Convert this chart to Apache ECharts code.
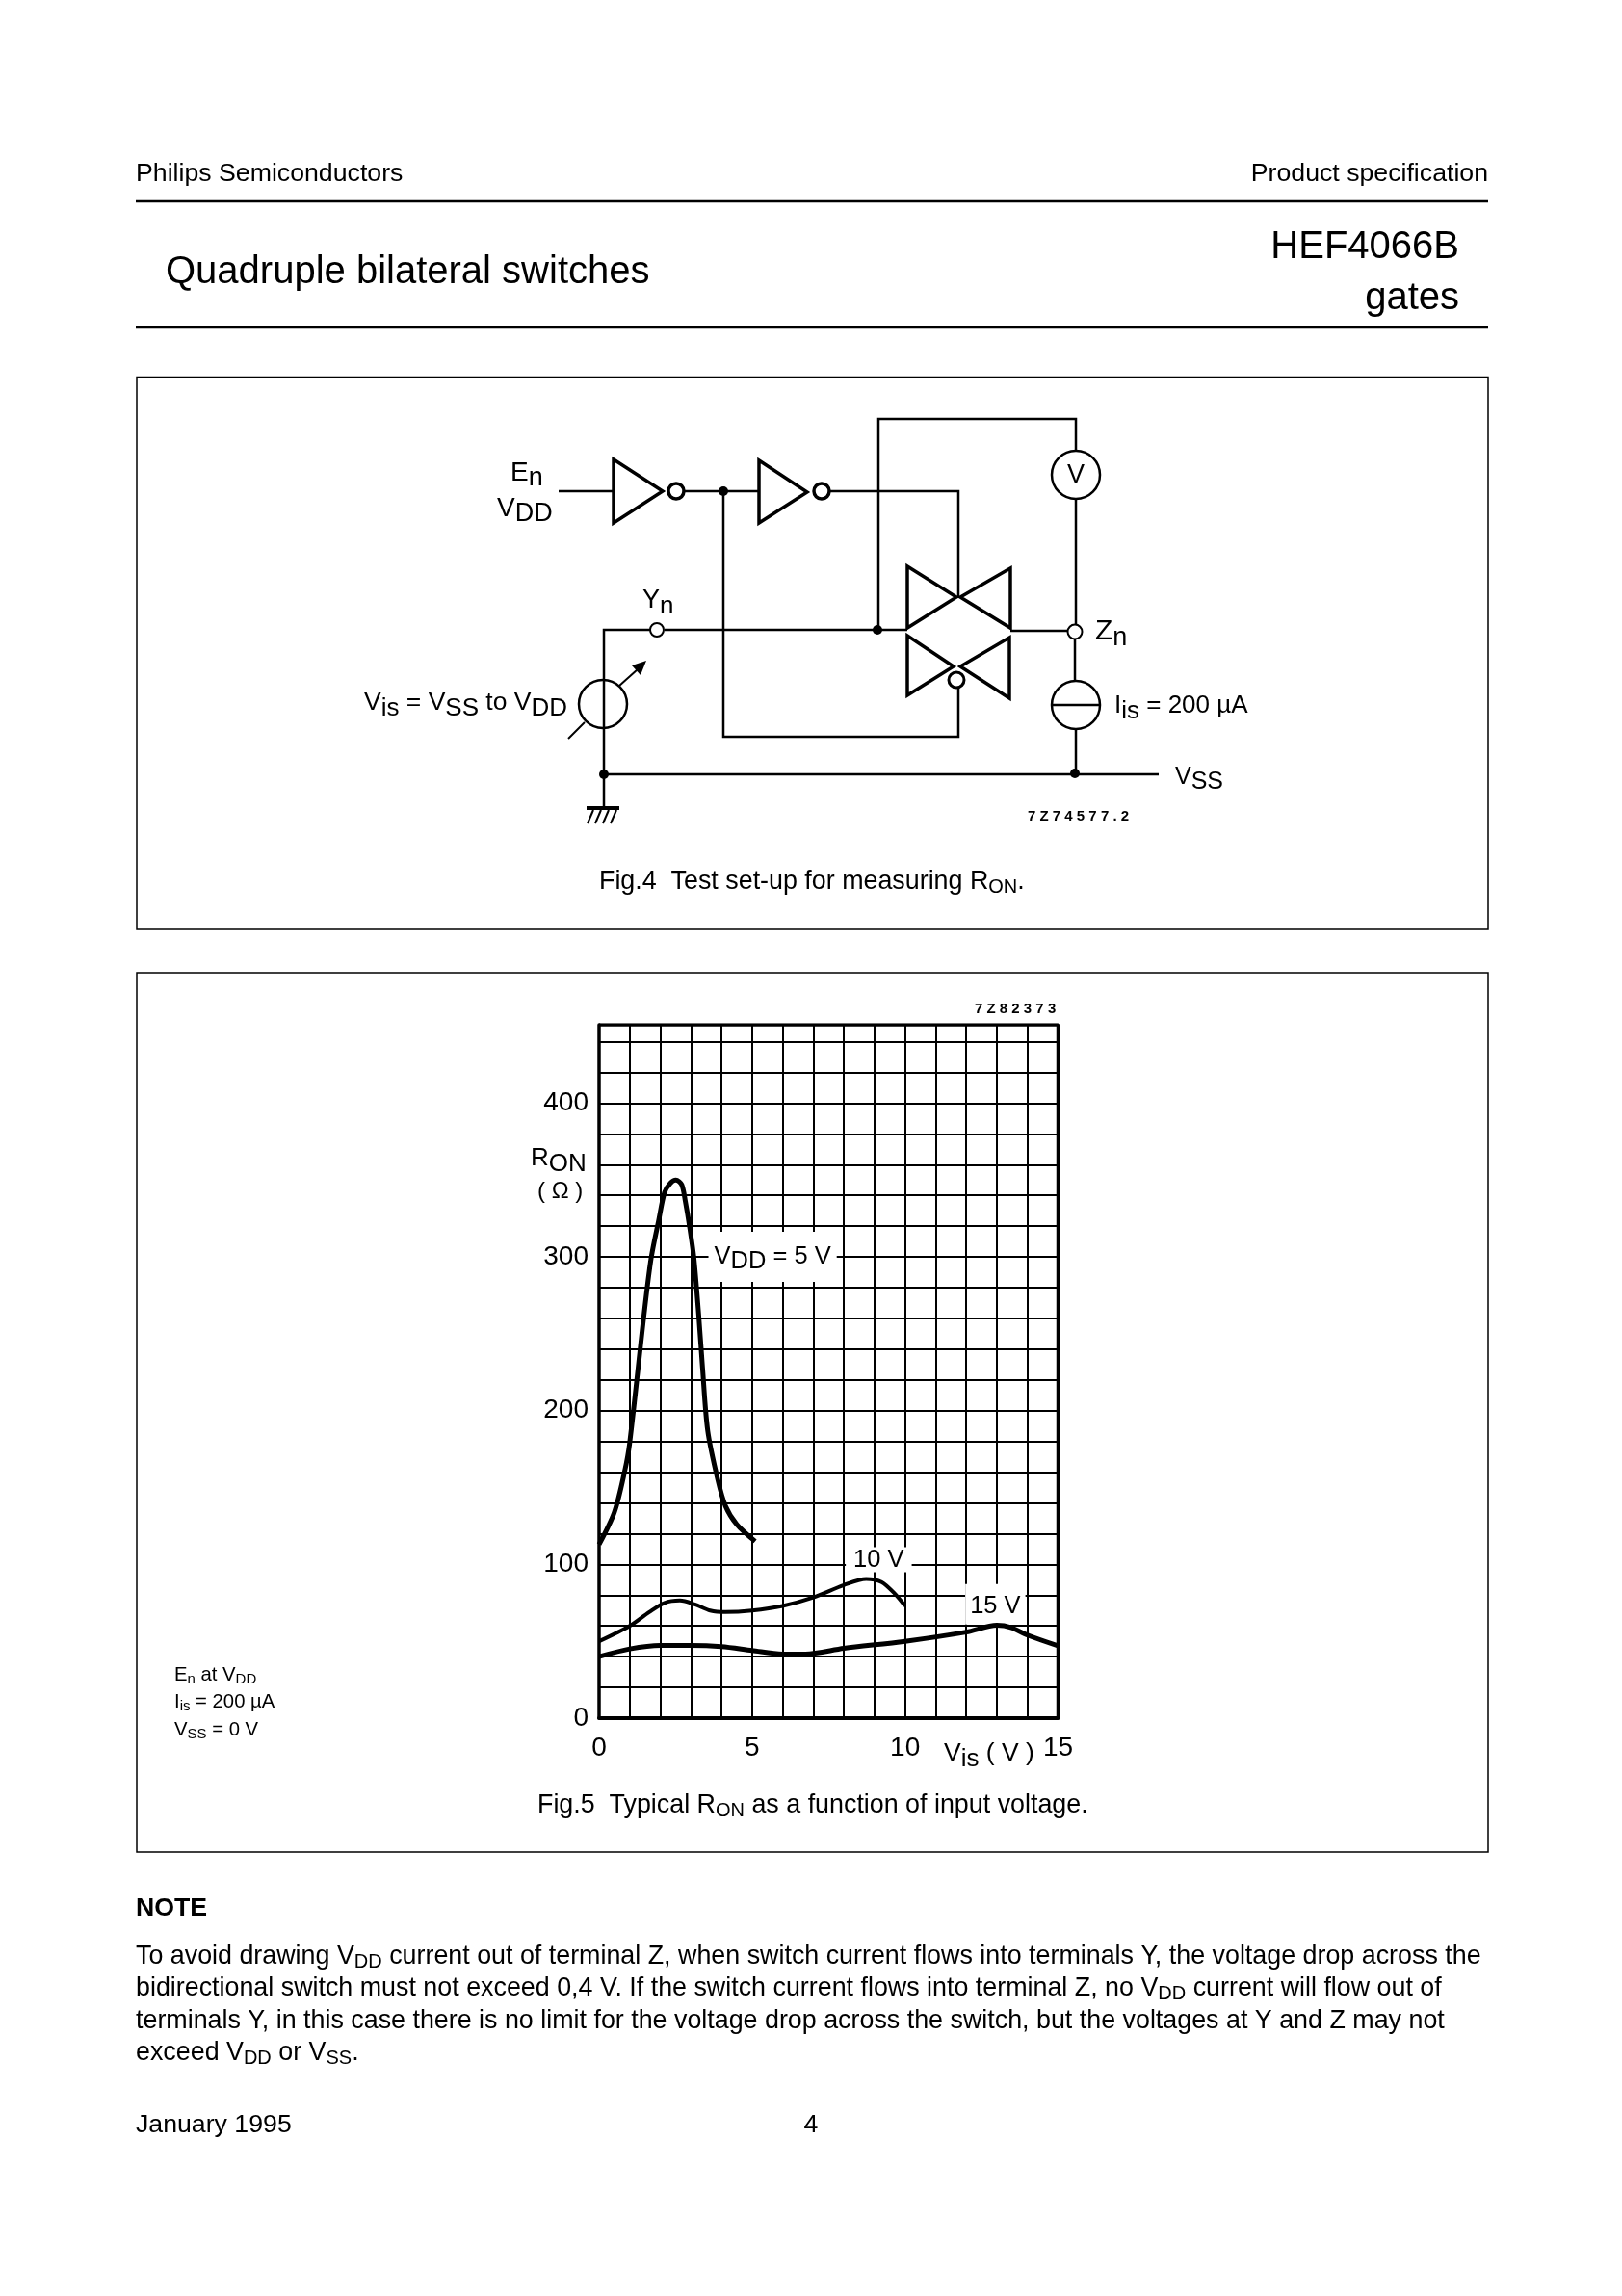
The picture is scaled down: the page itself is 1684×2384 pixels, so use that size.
<!DOCTYPE html>
<html>
<head>
<meta charset="utf-8">
<title>HEF4066B</title>
<script src="https://cdn.jsdelivr.net/npm/echarts@6/dist/echarts.min.js"></script>
<style>
    html, body { margin: 0; padding: 0; background: #fff; }
    #page { width: 1684px; height: 2384px; }
</style>
</head>
<body>
<div id="page"></div>
<script>
var vdd5 = [[0, 113], [0.5, 134], [0.83, 160], [1, 179], [1.46, 261], [1.7, 299], [1.95, 324], [2.14, 342],
    [2.33, 348], [2.51, 350], [2.7, 347], [2.82, 336], [2.97, 318], [3.1, 299], [3.26, 261], [3.38, 228], [3.55, 187],
    [3.88, 155], [4.13, 138], [4.5, 126], [5.1, 115]];
var vdd10 = [[0, 50], [1, 60], [1.64, 69], [2.14, 75], [2.64, 76.5], [3.13, 74], [3.63, 70], [4.13, 69], [5, 70],
    [6, 73], [7, 78.5], [8, 86.5], [8.73, 90.5], [9.23, 88.5], [9.66, 81], [10, 73]];
var vdd15 = [[0, 40], [1, 45], [2, 47.3], [3, 47.3], [4, 46.5], [5, 44], [6, 41.7], [6.74, 41.7], [8, 45.4], [10, 50],
    [12, 56], [13, 60.4], [13.46, 59], [14, 54], [15, 47]];

var xTickLabels = [0, 5, 10, 15];
var yTickLabels = [0, 100, 200, 300, 400];
var curveLabels = [
    {value: [5.67, 300], text: '{m|V}{s|DD}{m| = 5 V}'},
    {value: [9.14, 103], text: '{m|10 V}'},
    {value: [12.95, 74], text: '{m|15 V}'}
];
var curveLabelPads = [[8, 6, 8, 6], [0, 8, 0, 8], [10, 5, 6, 5]];

var FONT = '"Liberation Sans", Arial, sans-serif';
var TEXT = '#000';

var els = [];

function txt(x, y, str, size, opt) {
    opt = opt || {};
    els.push({
        type: 'text', x: x, y: y, z: 50,
        style: {
            text: str, fill: TEXT, font: (opt.weight || 'normal') + ' ' + size + 'px ' + FONT,
            align: opt.align || 'left', verticalAlign: 'middle',
            rich: opt.rich
        }
    });
}

// text with subscripts: {m|main}{s|sub}
function rich(size, subSize) {
    return {
        m: {fontSize: size, fontFamily: FONT, fill: TEXT, color: TEXT},
        s: {fontSize: subSize, fontFamily: FONT, fill: TEXT, color: TEXT, padding: [Math.round(size * 0.42), 0, 0, 0]}
    };
}

function line(pts, w, z) {
    els.push({type: 'polyline', z: z || 40, shape: {points: pts}, style: {stroke: '#000', lineWidth: w || 2.5, fill: null, lineJoin: 'miter'}});
}

function tri(pts, w) {
    els.push({type: 'polygon', z: 41, shape: {points: pts}, style: {stroke: '#000', lineWidth: w || 3.5, fill: null, lineJoin: 'miter'}});
}

function circ(x, y, r, w) {
    els.push({type: 'circle', z: 42, shape: {cx: x, cy: y, r: r}, style: {stroke: '#000', lineWidth: w || 2.5, fill: '#fff'}});
}

function dot(x, y, r) {
    els.push({type: 'circle', z: 43, shape: {cx: x, cy: y, r: r || 5}, style: {fill: '#000'}});
}

function box(x, y, w, h) {
    els.push({type: 'rect', z: 1, shape: {x: x, y: y, width: w, height: h}, style: {stroke: '#000', lineWidth: 1.5, fill: null}});
}

// page furniture
var BODY = 26.85;
var bodyR = rich(BODY, 20);
txt(141, 180.5, 'Philips Semiconductors', 26.7);
txt(1545, 180.5, 'Product specification', 26.7, {align: 'right'});
line([[141, 209], [1545, 209]], 2.5);
txt(172, 282.5, 'Quadruple bilateral switches', 40);
txt(1515, 256.5, 'HEF4066B', 40, {align: 'right'});
txt(1515, 309.5, 'gates', 40, {align: 'right'});
line([[141, 340], [1545, 340]], 2.5);

box(142, 391.5, 1403, 573.5);
box(142, 1010, 1403, 913);

txt(622, 915.5, '{m|Fig.4  Test set-up for measuring R}{s|ON}{m|.}', BODY, {rich: bodyR});
txt(558, 1874.5, '{m|Fig.5  Typical R}{s|ON}{m| as a function of input voltage.}', BODY, {rich: bodyR});

var smallR = rich(20.3, 15);
txt(181, 1739, '{m|E}{s|n}{m| at V}{s|DD}', 20.3, {rich: smallR});
txt(181, 1767, '{m|I}{s|is}{m| = 200 µA}', 20.3, {rich: smallR});
txt(181, 1796, '{m|V}{s|SS}{m| = 0 V}', 20.3, {rich: smallR});

txt(141, 1981.5, 'NOTE', 26.7, {weight: 'bold'});
txt(141, 2031.5, '{m|To avoid drawing V}{s|DD}{m| current out of terminal Z, when switch current flows into terminals Y, the voltage drop across the}', BODY, {rich: bodyR});
txt(141, 2064.5, '{m|bidirectional switch must not exceed 0,4 V. If the switch current flows into terminal Z, no V}{s|DD}{m| current will flow out of}', BODY, {rich: bodyR});
txt(141, 2098.5, 'terminals Y, in this case there is no limit for the voltage drop across the switch, but the voltages at Y and Z may not', BODY);
txt(141, 2131.5, '{m|exceed V}{s|DD}{m| or V}{s|SS}{m|.}', BODY, {rich: bodyR});
txt(141, 2206.5, 'January 1995', 26.7);
txt(842, 2206.5, '4', 26.7, {align: 'center'});

// Fig.4 schematic
var schR = rich(26.5, 26);
line([[580, 510], [637, 510]]);
tri([[637, 477], [688, 510], [637, 543]]);
circ(702, 510, 8, 3.5);
line([[711, 510], [788, 510]]);
dot(751, 510);
tri([[788, 478], [838, 511], [788, 543]]);
circ(853, 510, 8, 3.5);
line([[862, 510], [995, 510], [995, 620]]);
line([[751, 510], [751, 765], [995, 765], [995, 715]]);
line([[912, 654], [912, 435], [1117, 435], [1117, 468]]);
circ(1117, 493, 25);
line([[1117, 518], [1117, 650]]);
line([[627, 838], [627, 654], [675, 654]]);
circ(682, 654, 7, 2);
line([[690, 654], [942, 654]]);
dot(911, 654);
tri([[942, 588], [993, 620], [942, 652]]);
tri([[1049, 590], [997, 620], [1049, 652]]);
tri([[942, 660], [990, 692], [942, 722]]);
tri([[1048, 662], [997, 692], [1048, 725]]);
circ(993, 706, 8, 3);
line([[1049, 655], [1108, 655]]);
circ(1116, 656, 7.5, 2);
line([[1116, 664], [1116, 707]]);
circ(1117, 732, 25);
line([[1092, 732], [1142, 732]], 2.5, 44);
line([[1117, 757], [1117, 803]]);
line([[627, 804], [1203, 804]]);
dot(627, 804);
dot(1116, 803);

els.push({type: 'circle', z: 39, shape: {cx: 626, cy: 731, r: 25}, style: {stroke: '#000', lineWidth: 2.5, fill: null}});
line([[643, 712], [662, 695]], 2);
els.push({type: 'polygon', z: 41, shape: {points: [[671, 686], [656, 691], [665, 701]]}, style: {fill: '#000'}});
line([[607, 750], [590, 767]], 2);

line([[609, 839], [643, 839]], 4);
line([[616, 841], [610, 855]], 2);
line([[624, 841], [618, 855]], 2);
line([[632, 841], [626, 855]], 2);
line([[640, 841], [634, 855]], 2);

txt(1117, 494, 'V', 27, {align: 'center'});
txt(530, 491, '{m|E}{s|n}', 28, {rich: rich(28, 27)});
txt(516, 528, '{m|V}{s|DD}', 28, {rich: rich(28, 27)});
txt(667, 624, '{m|Y}{s|n}', 27, {rich: rich(27, 26)});
txt(378, 730, '{m|V}{s|is}{m| = V}{s|SS}{m| to V}{s|DD}', 26.5, {rich: schR});
txt(1137, 656, '{m|Z}{s|n}', 28, {rich: rich(30, 27)});
txt(1157, 733, '{m|I}{s|is}{m| = 200 µA}', 26, {rich: rich(26, 26)});
txt(1220, 807, '{m|V}{s|SS}', 25, {rich: rich(25, 25)});
txt(1067, 848, '7 Z 7 4 5 7 7 . 2', 15, {weight: 'bold'});

// Fig.5 labels that are not axis ticks
txt(1012, 1048, '7 Z 8 2 3 7 3', 15, {weight: 'bold'});
txt(551, 1203, '{m|R}{s|ON}', 26, {rich: rich(26, 26)});
txt(558, 1237, '( Ω )', 24);
txt(980, 1821, '{m|V}{s|is}{m| ( V )}', 24, {rich: schR});

function curve(name, data, width) {
    return {
        name: name, type: 'line', data: data, smooth: 0.3, showSymbol: false, symbol: 'none', z: 10,
        lineStyle: {color: '#000', width: width, cap: 'butt'}
    };
}

var chart = echarts.init(document.getElementById('page'), null, {renderer: 'canvas'});

var option = {
    animation: false,
    backgroundColor: '#fff',
    textStyle: {fontFamily: FONT},
    grid: {left: 622, top: 1064, width: 476.5, height: 720, containLabel: false},
    xAxis: {
        type: 'value', min: 0, max: 15, interval: 1,
        axisLine: {show: true, onZero: false, lineStyle: {color: '#000', width: 4}},
        axisTick: {show: false},
        splitLine: {show: true, lineStyle: {color: '#000', width: 2}},
        axisLabel: {
            color: TEXT, fontSize: 28, margin: 17,
            formatter: function (v) { return xTickLabels.indexOf(v) >= 0 ? String(v) : ''; }
        }
    },
    yAxis: {
        type: 'value', min: 0, max: 451, interval: 20,
        axisLine: {show: true, onZero: false, lineStyle: {color: '#000', width: 3.5}},
        axisTick: {show: false},
        splitLine: {show: true, lineStyle: {color: '#000', width: 2}},
        axisLabel: {
            color: TEXT, fontSize: 28, margin: 11,
            formatter: function (v) { return yTickLabels.indexOf(v) >= 0 ? String(v) : ''; }
        }
    },
    graphic: {elements: els},
    series: [
        curve('5 V', vdd5, 5),
        curve('10 V', vdd10, 4),
        curve('15 V', vdd15, 5),
        {
            // top and right edge of the plot box
            type: 'line', data: [[0, 451], [15, 451], [15, 0]], symbol: 'none', z: 9,
            lineStyle: {color: '#000', width: 3.5}
        },
        {
            type: 'scatter', symbolSize: 0, z: 8, silent: true,
            itemStyle: {opacity: 1},
            data: curveLabels.map(function (d, i) {
                return {value: d.value, text: d.text, label: {padding: curveLabelPads[i]}};
            }),
            label: {
                show: true, position: 'inside', backgroundColor: '#fff', opacity: 1,
                formatter: function (p) { return p.data.text; },
                rich: {
                    m: {fontSize: 25.5, color: TEXT, fontFamily: FONT},
                    s: {fontSize: 25.5, color: TEXT, fontFamily: FONT, padding: [10, 0, 0, 0]}
                }
            }
        }
    ]
};

chart.setOption(option);
</script>
</body>
</html>
